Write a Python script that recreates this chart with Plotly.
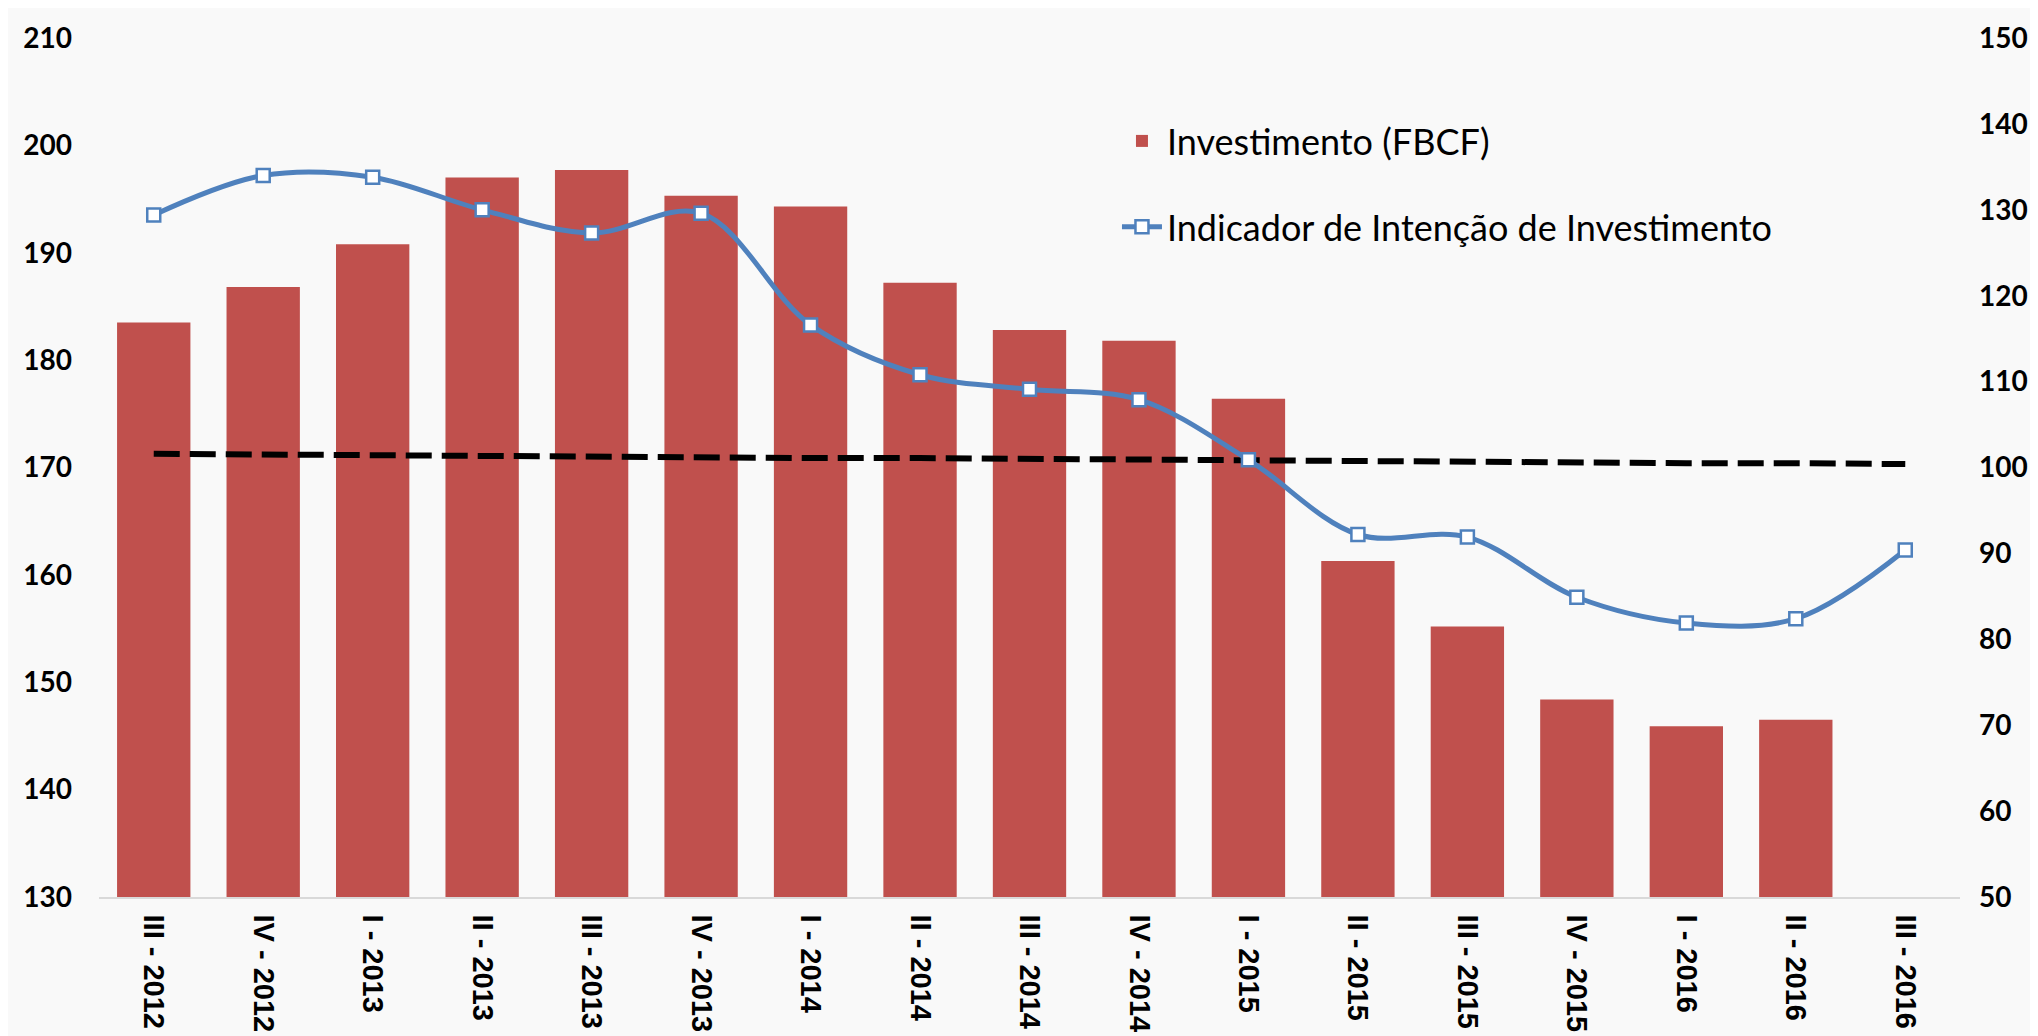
import plotly.graph_objects as go

categories = ["III - 2012", "IV - 2012", "I - 2013", "II - 2013", "III - 2013", "IV - 2013",
              "I - 2014", "II - 2014", "III - 2014", "IV - 2014", "I - 2015", "II - 2015",
              "III - 2015", "IV - 2015", "I - 2016", "II - 2016", "III - 2016"]

investimento = [183.5, 186.8, 190.8, 197.0, 197.7, 195.3, 194.3, 187.2, 182.8, 181.8,
                176.4, 161.3, 155.2, 148.4, 145.9, 146.5, None]

indicador = [129.4, 134.0, 133.8, 130.0, 127.3, 129.6, 116.6, 110.8, 109.1, 107.9,
             100.9, 92.2, 91.9, 84.9, 81.9, 82.4, 90.4]

tendencia = [101.6, 101.5, 101.4, 101.4, 101.3, 101.2, 101.1, 101.1, 101.0, 100.9,
             100.8, 100.8, 100.7, 100.6, 100.5, 100.5, 100.4]

left_ticks = [130, 140, 150, 160, 170, 180, 190, 200, 210]
right_ticks = [50, 60, 70, 80, 90, 100, 110, 120, 130, 140, 150]

fig = go.Figure()

fig.add_trace(go.Bar(
    x=categories, y=investimento, name="Investimento (FBCF)",
    marker=dict(color="#C0504D", line=dict(width=0)),
    legendgroup="a",
))

fig.add_trace(go.Scatter(
    x=categories, y=tendencia, yaxis="y2", mode="lines",
    line=dict(color="black", width=6, dash="26px,10px"),
    showlegend=False, hoverinfo="skip",
))

fig.add_trace(go.Scatter(
    x=categories, y=indicador, yaxis="y2", name="Indicador de Intenção de Investimento",
    mode="lines+markers",
    line=dict(color="#4F81BD", width=5, shape="spline", smoothing=1.0),
    marker=dict(symbol="square", size=13, color="white", line=dict(color="#4F81BD", width=2.5)),
    legendgroup="b",
))

tick_font = dict(family="Lato", size=28, color="black", weight="bold")

fig.update_layout(
    width=2038, height=1036,
    margin=dict(l=91, r=86, t=26, b=137),
    paper_bgcolor="#F9F9F9", plot_bgcolor="#F9F9F9",
    bargap=0.33,
    showlegend=True,
    legend=dict(
        x=0.547, y=0.915, xanchor="left", yanchor="top",
        font=dict(family="Lato", size=36, color="black"),
        bgcolor="rgba(0,0,0,0)", tracegroupgap=36, traceorder="grouped",
        itemwidth=40,
    ),
    xaxis=dict(
        type="category", categoryorder="array", categoryarray=categories,
        range=[-0.5, 16.5],
        tickangle=90, ticks="", ticklabelstandoff=10,
        tickfont=dict(family="Liberation Sans", size=29, color="black", weight="bold"),
        showline=True, linecolor="#D9D9D9", linewidth=1.5, showgrid=False, zeroline=False,
    ),
    yaxis=dict(
        range=[130, 210], tickvals=left_ticks, ticks="", ticklabelstandoff=26,
        tickfont=tick_font,
        showgrid=False, zeroline=False, showline=False,
    ),
    yaxis2=dict(
        range=[50, 150], tickvals=right_ticks, overlaying="y", side="right",
        ticks="", ticklabelstandoff=18,
        tickfont=tick_font,
        showgrid=False, zeroline=False, showline=False,
    ),
)

fig.write_html("out.html")
